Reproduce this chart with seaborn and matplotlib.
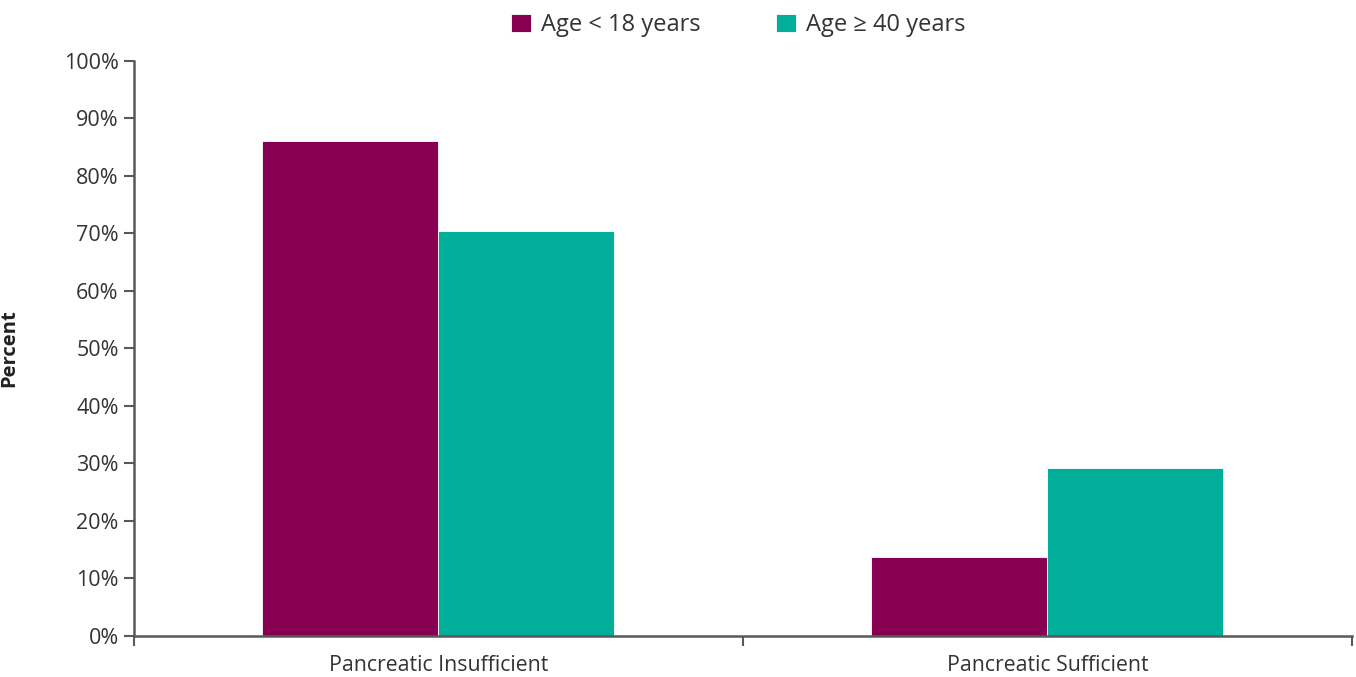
import pandas as pd
import matplotlib
matplotlib.use("Agg")
import matplotlib.pyplot as plt
import seaborn as sns
from matplotlib.ticker import FixedLocator, PercentFormatter

# data
categories = ["Pancreatic Insufficient", "Pancreatic Sufficient"]
groups = ["Age < 18 years", "Age \u2265 40 years"]
young = [86.1, 13.7]
older = [70.4, 29.3]
colors = ["#870052", "#00AE9A"]

df = pd.DataFrame({
    "category": categories * 2,
    "group": [groups[0]] * 2 + [groups[1]] * 2,
    "value": young + older,
})

sns.set_style("white")
plt.rcParams["font.family"] = ["Open Sans", "DejaVu Sans"]

fig = plt.figure(figsize=(13.56, 6.77), dpi=100)
ax = fig.add_axes([0.0988, 0.0606, 0.8982, 0.8493])

sns.barplot(data=df, x="category", y="value", hue="group", order=categories,
            hue_order=groups, palette=colors, width=0.578, saturation=1,
            edgecolor="white", linewidth=0.6, ax=ax, legend=True)

ax.set_xlim(-0.5, 1.5)
ax.set_ylim(0, 100)
ax.set_yticks(range(0, 101, 10))
ax.yaxis.set_major_formatter(PercentFormatter(decimals=0))

# category boundary ticks on the x axis
ax.xaxis.set_minor_locator(FixedLocator([-0.5, 0.5, 1.5]))
ax.tick_params(axis="x", which="major", length=0, labelsize=15.3,
               labelcolor="#333333", pad=14)
ax.tick_params(axis="x", which="minor", length=7, width=1.5,
               color="#595959", direction="out", bottom=True)
ax.tick_params(axis="y", length=7, width=1.5, color="#595959",
               direction="out", left=True, labelsize=15.5,
               labelcolor="#333333", pad=4)

for side in ["top", "right"]:
    ax.spines[side].set_visible(False)
for side in ["left", "bottom"]:
    ax.spines[side].set_color("#595959")
    ax.spines[side].set_linewidth(1.8)

ax.set_xlabel("")
ax.set_ylabel("Percent", fontsize=14.5, fontweight="bold", color="#222222")
ax.yaxis.set_label_coords(-0.094, 0.5)

handles, labels = ax.get_legend_handles_labels()
ax.get_legend().remove()
fig.legend(handles, labels, loc="upper center", bbox_to_anchor=(0.5446, 1.012),
           ncol=2, frameon=False, fontsize=17, handlelength=0.85,
           handleheight=0.85, handletextpad=0.42, columnspacing=3.2,
           labelcolor="#333333")

fig.savefig("out.png", dpi=100)
